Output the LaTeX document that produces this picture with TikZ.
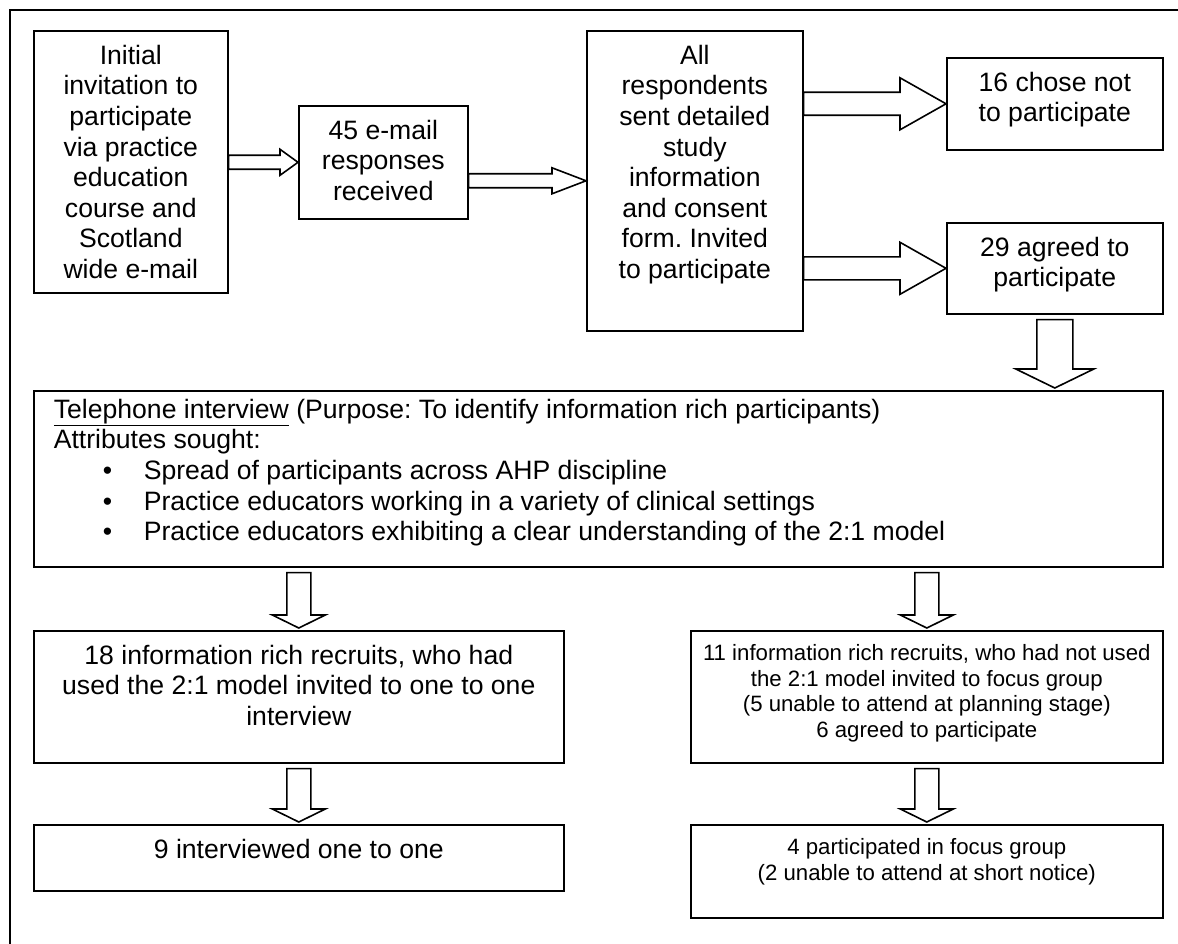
\documentclass[tikz,border=0pt]{standalone}
\usepackage{fontspec}
\setmainfont{Liberation Sans}
\usetikzlibrary{calc}
\frenchspacing
% text of a box, set from the top: inner height, inner width, lines
\newcommand{\inbox}[3]{\parbox[c][#1][t]{#2}{\centering\strut#3}}
% block arrows: from, to, half shaft, half head, head length
\newcommand{\rarr}[5]{%
  \draw[blk] let \p1=(#1), \p2=(#2) in
    (\x1,\y2+#3) -- (\x2-#5,\y2+#3) -- (\x2-#5,\y2+#4) -- (\x2,\y2)
    -- (\x2-#5,\y2-#4) -- (\x2-#5,\y2-#3) -- (\x1,\y2-#3) -- cycle;}
\newcommand{\darr}[5]{%
  \draw[blk] let \p1=(#1), \p2=(#2) in
    (\x1-#3,\y1-5pt) -- (\x1-#3,\y2+2pt+#5) -- (\x1-#4,\y2+2pt+#5) -- (\x1,\y2+2pt)
    -- (\x1+#4,\y2+2pt+#5) -- (\x1+#3,\y2+2pt+#5) -- (\x1+#3,\y1-5pt) -- cycle;}

\begin{document}
\begin{tikzpicture}[x=1pt, y=-1pt,
  bx/.style={draw, line width=1.6pt, anchor=north west, inner xsep=4pt, inner ysep=12pt,
    font=\fontsize{26.6}{30.6}\selectfont},
  sm/.style={bx, font=\fontsize{22.2}{25.6}\selectfont},
  blk/.style={draw, line width=1.6pt, fill=white, line join=miter}]
\useasboundingbox (0,0) rectangle (1178,944);
\draw[line width=1.6pt] (1178,10) -- (10,10) -- (10,944);
% top row
\node[bx] (inv) at (33,30)
  {\inbox{238pt}{186pt}{Initial\\invitation to\\participate\\via practice\\education\\course and\\Scotland\\wide e-mail}};
\node[bx] (resp) at (298,105) {\inbox{89pt}{161pt}{45 e-mail\\responses\\received}};
\node[bx] (sent) at (586,30)
  {\inbox{276pt}{208pt}{All\\respondents\\sent detailed\\study\\information\\and consent\\form. Invited\\to participate}};
\node[bx] (no) at (946,57) {\inbox{68pt}{208pt}{16 chose not\\to participate}};
\node[bx] (yes) at (946,222) {\inbox{67pt}{208pt}{29 agreed to\\participate}};
% telephone interview
\node[bx, inner xsep=20pt, inner ysep=6pt] (tel) at (33,390)
  {\parbox[c][164pt][t]{1089pt}{\raggedright\strut
   \underline{Telephone interview} (Purpose: To identify information rich participants)\\
   Attributes sought:\\
   \hspace*{49pt}\makebox[41pt][l]{\textbullet}Spread of participants across AHP discipline\\
   \hspace*{49pt}\makebox[41pt][l]{\textbullet}Practice educators working in a variety of clinical settings\\
   \hspace*{49pt}\makebox[41pt][l]{\textbullet}Practice educators exhibiting a clear understanding of the 2:1 model}};
% two branches
\node[bx] (used) at (33,630)
  {\inbox{108pt}{522pt}{18 information rich recruits, who had\\used the 2:1 model invited to one to one\\interview}};
\node[sm] (notused) at (690,630)
  {\inbox{108pt}{464pt}{11 information rich recruits, who had not used\\the 2:1 model invited to focus group\\(5 unable to attend at planning stage)\\6 agreed to participate}};
\node[bx] (one) at (33,824) {\inbox{42pt}{522pt}{9 interviewed one to one}};
\node[sm] (focus) at (690,824)
  {\inbox{69pt}{464pt}{4 participated in focus group\\(2 unable to attend at short notice)}};
% arrows
\rarr{inv.east}{resp.west}{7pt}{13pt}{18pt}
\rarr{resp.east}{sent.west}{7pt}{13pt}{34pt}
\rarr{sent.east}{no.west}{11.5pt}{26pt}{46pt}
\rarr{sent.east}{yes.west}{11.5pt}{26pt}{46pt}
\darr{yes.south}{tel.north}{18pt}{39pt}{19pt}
\darr{tel.south -| used.north}{used.north}{12pt}{26.5pt}{13pt}
\darr{tel.south -| notused.north}{notused.north}{12pt}{26.5pt}{13pt}
\darr{used.south}{one.north}{12pt}{26.5pt}{13pt}
\darr{notused.south}{focus.north}{12pt}{26.5pt}{13pt}
\end{tikzpicture}
\end{document}
